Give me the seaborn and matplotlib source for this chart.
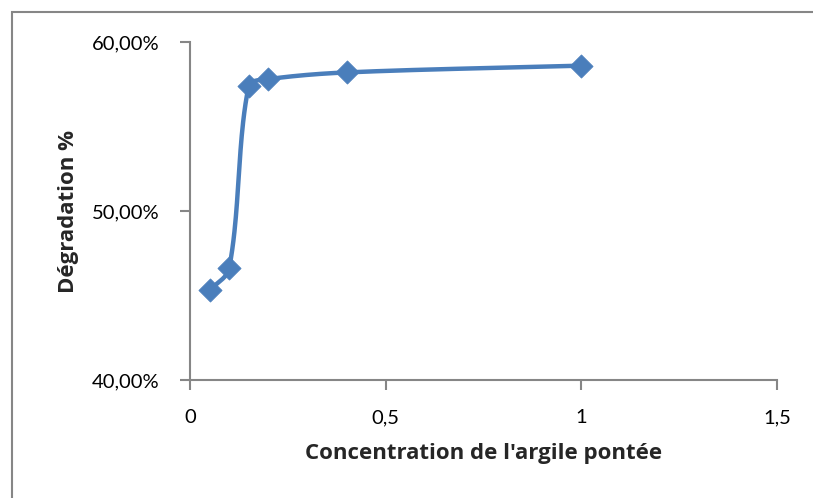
import numpy as np
import pandas as pd
import matplotlib
matplotlib.use("Agg")
import matplotlib.pyplot as plt
from matplotlib.patches import Rectangle
from matplotlib.ticker import FuncFormatter
import seaborn as sns

# Degradation yield versus pillared clay dose
concentration = [0.05, 0.1, 0.15, 0.2, 0.4, 1.0]
degradation = [0.453, 0.466, 0.574, 0.578, 0.582, 0.586]

x_ticks = [0, 0.5, 1, 1.5]
y_ticks = [0.40, 0.50, 0.60]

LINE_COLOR = "#4a7ebb"
AXIS_COLOR = "#868686"


def smooth_curve(ax, x, y, n=40):
    """Bezier smoothing done in screen space, with chord-scaled tangents."""
    disp = ax.transData.transform(np.column_stack([x, y]))
    pts = np.asarray(disp, float)
    out = [pts[0]]
    m = len(pts)
    for i in range(m - 1):
        p0 = pts[i - 1] if i > 0 else pts[i]
        p1 = pts[i]
        p2 = pts[i + 1]
        p3 = pts[i + 2] if i + 2 < m else pts[i + 1]
        d01 = np.linalg.norm(p1 - p0)
        d12 = np.linalg.norm(p2 - p1)
        d23 = np.linalg.norm(p3 - p2)
        t1 = (p2 - p0) * (d12 / (d01 + d12)) / 3.0 if d01 > 0 else (p2 - p1) / 3.0
        t2 = (p3 - p1) * (d12 / (d12 + d23)) / 3.0 if d23 > 0 else (p2 - p1) / 3.0
        c1 = p1 + t1
        c2 = p2 - t2
        t = np.linspace(0, 1, n)[1:, None]
        seg = ((1 - t) ** 3) * p1 + 3 * ((1 - t) ** 2) * t * c1 \
            + 3 * (1 - t) * t ** 2 * c2 + t ** 3 * p2
        out.extend(seg)
    out = ax.transData.inverted().transform(np.array(out))
    return out[:, 0], out[:, 1]


sns.set_theme(style="white")
plt.rcParams["font.family"] = ["Lato", "DejaVu Sans"]

fig = plt.figure(figsize=(8.13, 4.98), dpi=100)
ax = fig.add_axes([190 / 813, 1 - 380 / 498, 587 / 813, 338 / 498])
ax.set_xlim(0, 1.5)
ax.set_ylim(0.40, 0.60)

sx, sy = smooth_curve(ax, concentration, degradation)
curve = pd.DataFrame({"x": sx, "y": sy})
sns.lineplot(data=curve, x="x", y="y", sort=False, ax=ax,
             color=LINE_COLOR, linewidth=3.2, zorder=2)

pts = pd.DataFrame({"c": concentration, "d": degradation})
sns.scatterplot(data=pts, x="c", y="d", ax=ax, marker="D", s=140,
                color=LINE_COLOR, edgecolor=LINE_COLOR, linewidth=0.5,
                zorder=3)

ax.set_xlim(0, 1.5)
ax.set_ylim(0.40, 0.60)
ax.set_xticks(x_ticks)
ax.set_yticks(y_ticks)
ax.xaxis.set_major_formatter(FuncFormatter(
    lambda v, _: f"{v:g}".replace(".", ",")))
ax.yaxis.set_major_formatter(FuncFormatter(
    lambda v, _: f"{v * 100:.2f}%".replace(".", ",")))

for side in ("top", "right"):
    ax.spines[side].set_visible(False)
for side in ("left", "bottom"):
    ax.spines[side].set_color(AXIS_COLOR)
    ax.spines[side].set_linewidth(1.5)

ax.tick_params(axis="both", which="major", direction="out", length=7,
               width=1.5, color=AXIS_COLOR, labelsize=14.5, labelcolor="black",
               left=True, bottom=True)
ax.tick_params(axis="y", pad=15)
ax.tick_params(axis="x", pad=14)

label_font = dict(family=["Open Sans", "DejaVu Sans"], fontsize=16,
                  fontweight="bold")
ax.set_xlabel("Concentration de l'argile pontée", labelpad=12, **label_font)
ax.set_ylabel("Dégradation %", labelpad=9, **label_font)

# chart-area frame
fig.patches.append(Rectangle((11.5 / 813, -0.05), 1.1, 1 - 12.5 / 498 + 0.05,
                             transform=fig.transFigure, fill=False,
                             edgecolor=AXIS_COLOR, linewidth=1.5))

fig.savefig("out.png", dpi=100)
